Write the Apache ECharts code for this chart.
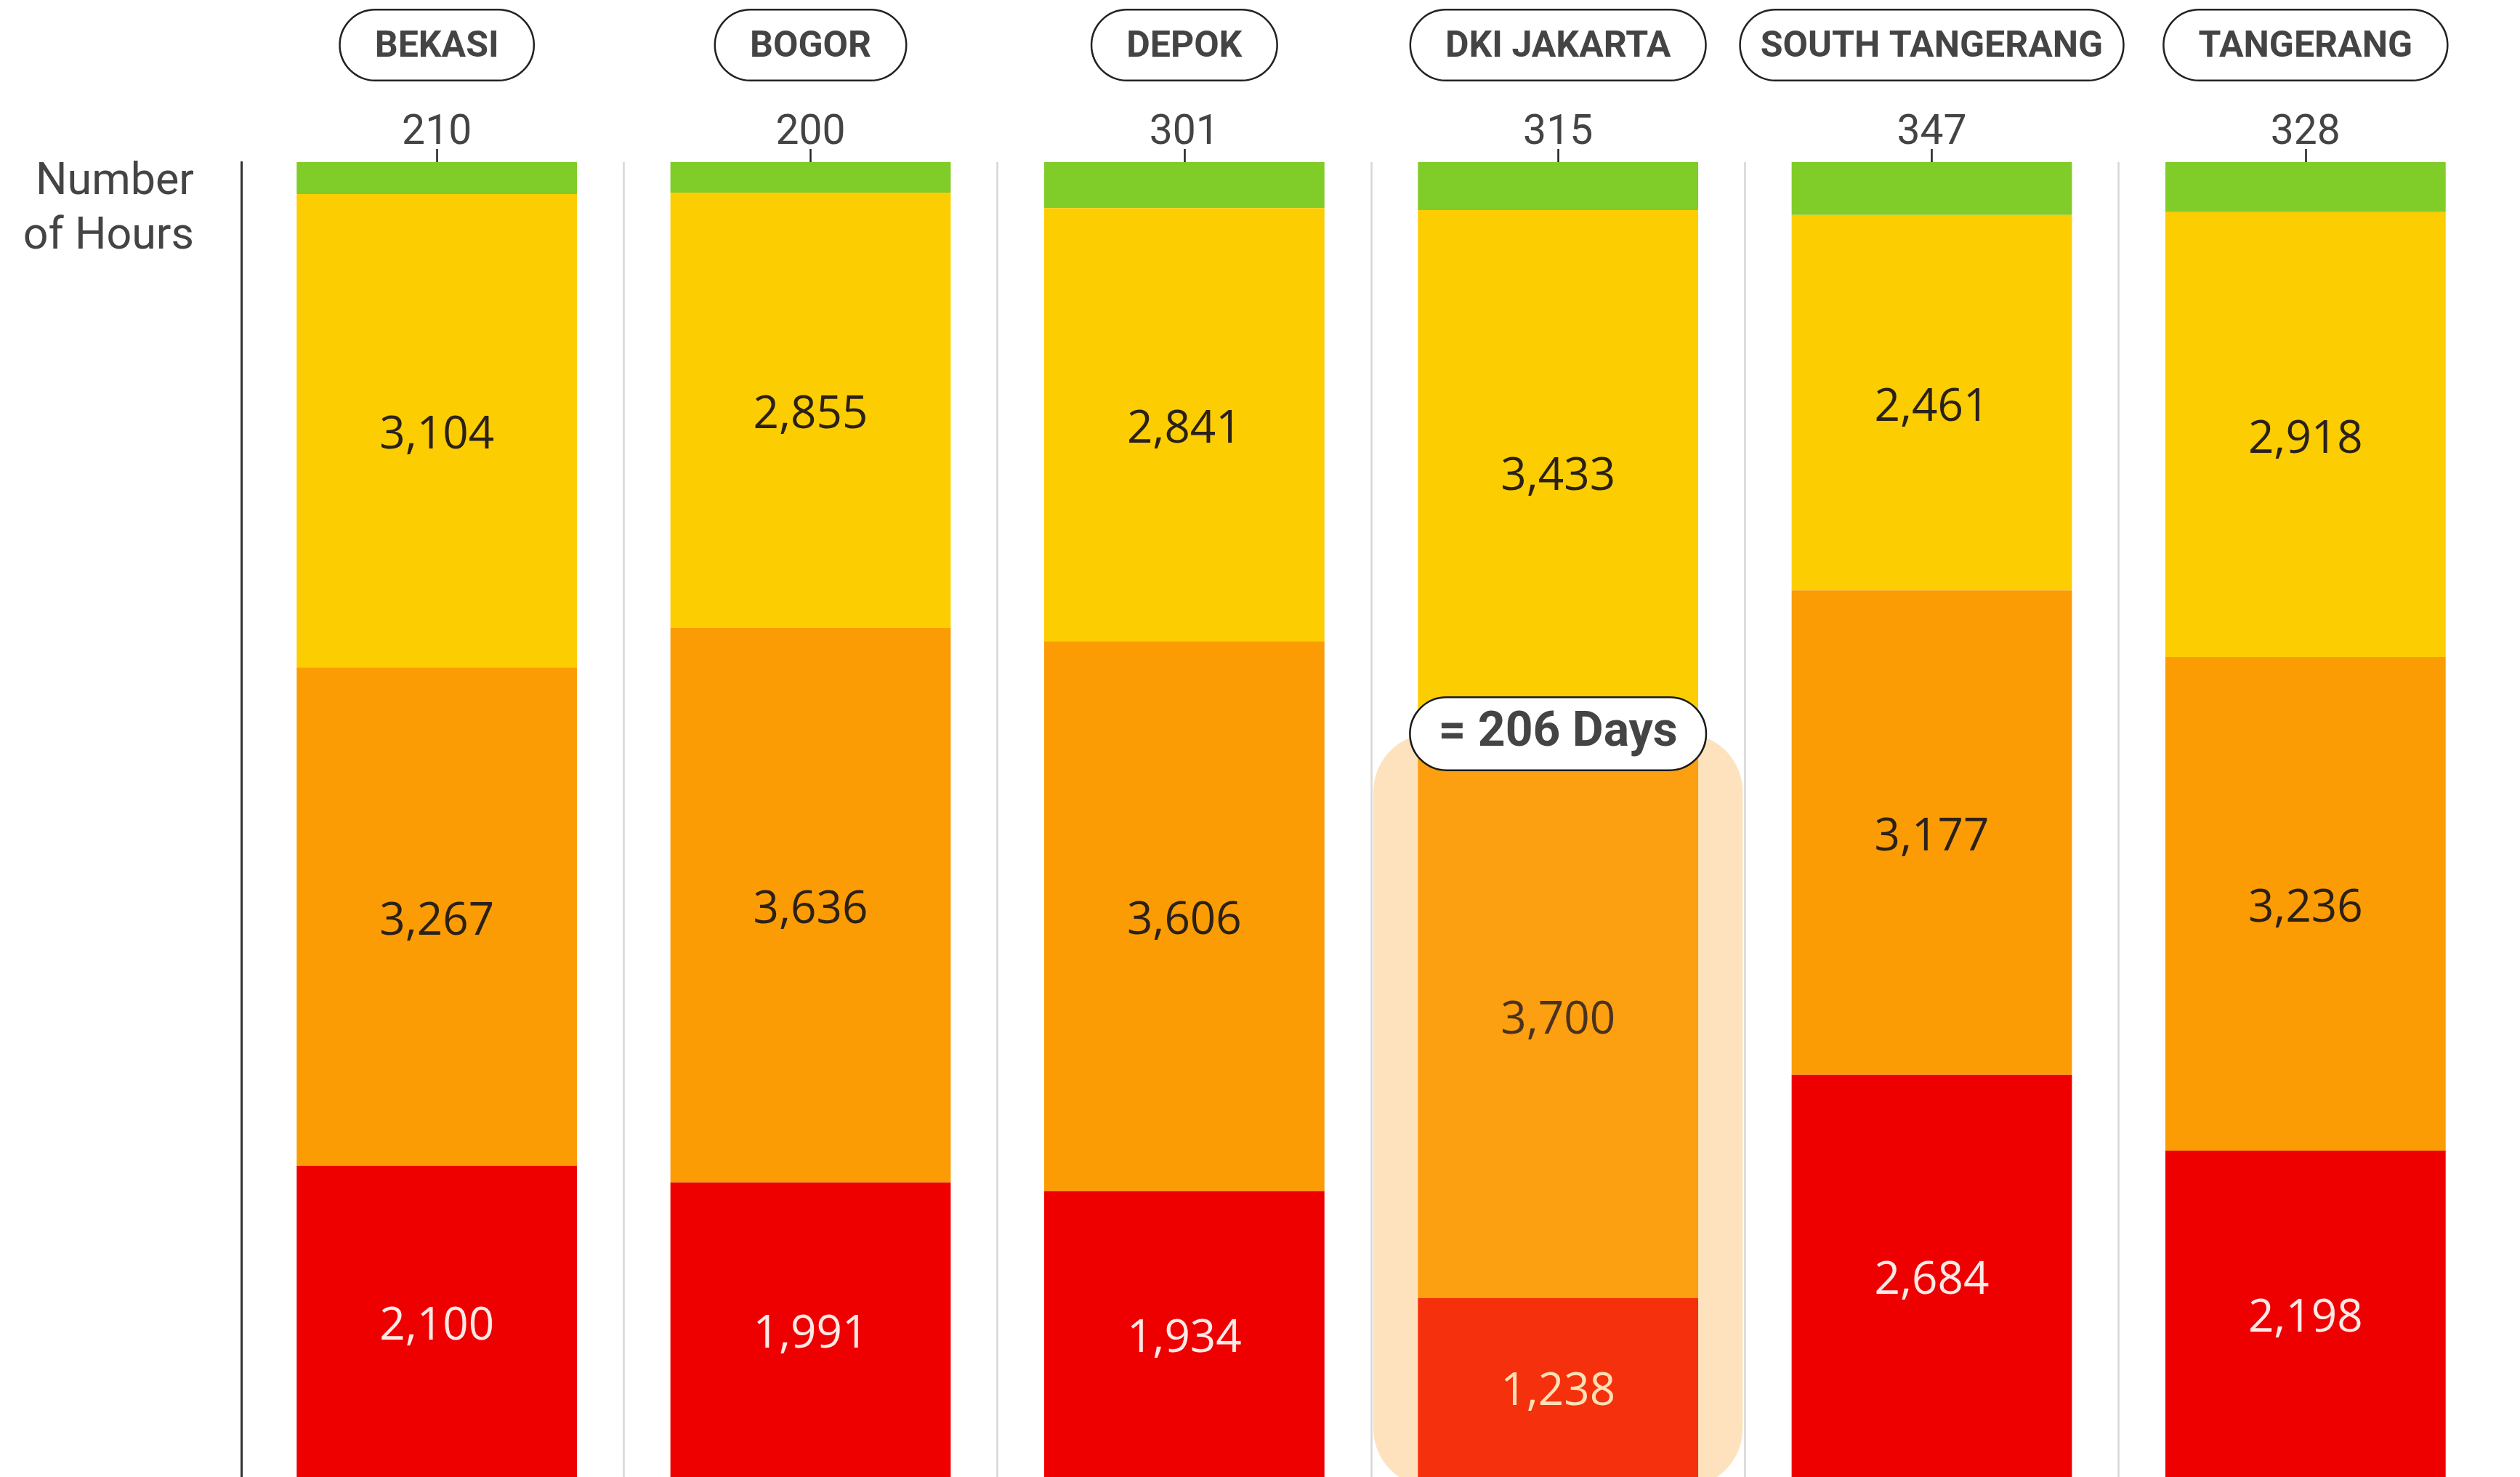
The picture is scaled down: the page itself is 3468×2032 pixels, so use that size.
<!DOCTYPE html>
<html>
<head>
<meta charset="utf-8">
<title>Hours by air quality level</title>
<script src="https://cdn.jsdelivr.net/npm/echarts@6/dist/echarts.min.js"></script>
<style>
  html, body { margin: 0; padding: 0; background: #ffffff; }
  #chart { width: 3468px; height: 2032px; }
</style>
</head>
<body>
<div id="chart"></div>
<script>
// Hours per year in each air-quality band, by city
const categories = ['BEKASI', 'BOGOR', 'DEPOK', 'DKI JAKARTA', 'SOUTH TANGERANG', 'TANGERANG'];
const goodHours = [210, 200, 301, 315, 347, 328];
const moderateHours = [3104, 2855, 2841, 3433, 2461, 2918];
const sensitiveHours = [3267, 3636, 3606, 3700, 3177, 3236];
const unhealthyHours = [2100, 1991, 1934, 1238, 2684, 2198];
const highlightCity = 'DKI JAKARTA';

const hi = categories.indexOf(highlightCity);
const hiStart = goodHours[hi] + moderateHours[hi];
const hiEnd = hiStart + sensitiveHours[hi] + unhealthyHours[hi];
const hiDays = Math.round((sensitiveHours[hi] + unhealthyHours[hi]) / 24);

const fmt = v => Number(v).toLocaleString('en-US');
const labelFont = '"Open Sans", "Noto Sans", sans-serif';

const chart = echarts.init(document.getElementById('chart'), null, { renderer: 'canvas' });

// Stacked band with value labels centred in each segment
function bandSeries(name, values, color, hiColor, labelColor, hiLabelColor) {
  return {
    name: name,
    type: 'bar',
    stack: 'hours',
    barWidth: '75%',
    z: 2,
    itemStyle: {
      color: p => (p.dataIndex === hi ? hiColor : color)
    },
    label: {
      show: true,
      position: 'inside',
      offset: [0, 7],
      fontFamily: labelFont,
      fontSize: 62,
      formatter: p => fmt(p.value)
    },
    emphasis: { disabled: true },
    data: values.map((v, i) => ({
      value: v,
      label: { color: i === hi ? hiLabelColor : labelColor }
    }))
  };
}

const goodSeries = {
  name: 'Good',
  type: 'bar',
  stack: 'hours',
  data: goodHours,
  barWidth: '75%',
  z: 2,
  itemStyle: { color: '#80cc28' },
  label: {
    show: true,
    position: 'top',
    distance: 11,
    fontFamily: 'Roboto',
    fontSize: 57,
    color: '#444444',
    formatter: p => fmt(p.value)
  },
  emphasis: { disabled: true }
};

const pillStyle = {
  fontFamily: 'Roboto', fontWeight: 'bold', fontSize: 50, color: '#444444',
  lineHeight: 56, padding: [26, 47, 19, 47],
  borderColor: '#222222', borderWidth: 2.5, borderRadius: 50,
  backgroundColor: '#ffffff'
};

const option = {
  backgroundColor: '#ffffff',
  animation: false,
  grid: { left: 344, right: 38, top: 223, bottom: 0 },
  xAxis: {
    type: 'category',
    position: 'top',
    data: categories,
    axisLine: { show: false, onZero: false },
    axisTick: {
      show: true,
      alignWithLabel: true,
      length: 18,
      lineStyle: { color: '#222222', width: 2.5 }
    },
    splitLine: {
      show: true,
      showMinLine: false,
      showMaxLine: false,
      lineStyle: { color: '#d6d6d6', width: 2.5 }
    },
    axisLabel: {
      interval: 0,
      margin: 133,
      formatter: name => '{' + (name.length > 12 ? 'pillTight' : 'pill') + '|' + name + '}',
      rich: {
        pill: pillStyle,
        pillTight: Object.assign({}, pillStyle, { padding: [26, 27, 19, 27] })
      }
    }
  },
  yAxis: {
    type: 'value',
    inverse: true,
    min: 0,
    max: 8622,
    offset: 12,
    axisLine: { show: true, lineStyle: { color: '#333333', width: 3 } },
    axisTick: { show: false },
    axisLabel: { show: false },
    splitLine: { show: false }
  },
  graphic: [{
    type: 'text',
    x: 267,
    y: 214,
    style: {
      text: 'Number\nof Hours',
      font: '61px Roboto',
      lineHeight: 75,
      fill: '#444444',
      align: 'right',
      verticalAlign: 'top'
    }
  }],
  series: [
    {
      name: 'highlight',
      type: 'custom',
      z: 1,
      silent: true,
      encode: { x: 0, y: [1, 2] },
      data: [[hi, hiStart, hiEnd]],
      renderItem: (params, api) => {
        const p0 = api.coord([api.value(0), api.value(1)]);
        const p1 = api.coord([api.value(0), api.value(2)]);
        const w = api.size([1, 0])[0];
        return {
          type: 'rect',
          shape: { x: p0[0] - w / 2 + 3, y: p0[1], width: w - 6, height: p1[1] - p0[1], r: 80 },
          style: { fill: '#fde2bd' }
        };
      }
    },
    goodSeries,
    bandSeries('Moderate', moderateHours, '#fccd00', '#fccd00', '#2b2118', '#2b2118'),
    bandSeries('Unhealthy for Sensitive Groups', sensitiveHours, '#fb9c04', '#fc9f10', '#2b2118', '#4a3220'),
    bandSeries('Unhealthy', unhealthyHours, '#ee0000', '#f5300c', '#fde9e6', '#fde0b5'),
    {
      name: 'callout',
      type: 'custom',
      z: 6,
      silent: true,
      encode: { x: 0, y: 1 },
      data: [[hi, hiStart, hiDays]],
      renderItem: (params, api) => {
        const p = api.coord([api.value(0), api.value(1)]);
        return {
          type: 'text',
          x: p[0],
          y: p[1],
          style: {
            text: '= ' + api.value(2) + ' Days',
            font: 'bold 66px Roboto',
            fill: '#444444',
            align: 'center',
            verticalAlign: 'middle',
            lineHeight: 66,
            backgroundColor: '#ffffff',
            borderColor: '#1a1a1a',
            borderWidth: 2.5,
            borderRadius: 50,
            padding: [16, 38, 16, 38]
          }
        };
      }
    }
  ]
};

chart.setOption(option);
</script>
</body>
</html>
